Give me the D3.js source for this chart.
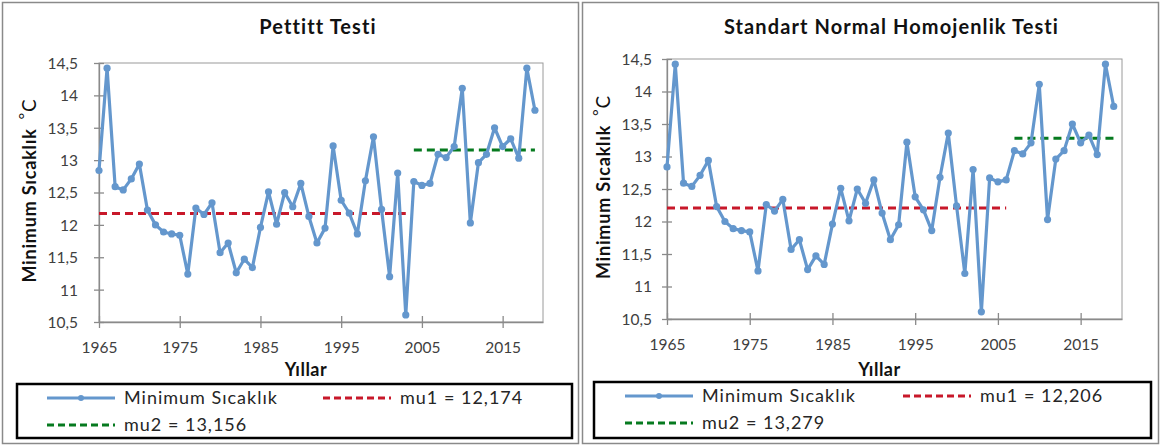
<!DOCTYPE html>
<html>
<head>
<meta charset="utf-8">
<script src="https://cdn.jsdelivr.net/npm/d3@7"></script>
<style>
  body { margin: 0; background: #fff; }
  text { font-family: Lato, "Open Sans", sans-serif; }
</style>
</head>
<body>
<div id="chart"></div>
<script>
var width = 1172;
var height = 447;

// values
var years = [1965, 1966, 1967, 1968, 1969, 1970, 1971, 1972, 1973, 1974,
    1975, 1976, 1977, 1978, 1979, 1980, 1981, 1982, 1983, 1984,
    1985, 1986, 1987, 1988, 1989, 1990, 1991, 1992, 1993, 1994,
    1995, 1996, 1997, 1998, 1999, 2000, 2001, 2002, 2003, 2004,
    2005, 2006, 2007, 2008, 2009, 2010, 2011, 2012, 2013, 2014,
    2015, 2016, 2017, 2018, 2019];
var minTemp = [12.84, 14.42, 12.59, 12.54, 12.71, 12.94, 12.23, 12.00, 11.89, 11.86,
    11.84, 11.24, 12.26, 12.16, 12.34, 11.57, 11.72, 11.26, 11.47, 11.34,
    11.96, 12.51, 12.01, 12.50, 12.28, 12.64, 12.13, 11.72, 11.95, 13.22,
    12.38, 12.18, 11.86, 12.68, 13.36, 12.24, 11.20, 12.80, 10.61, 12.67,
    12.61, 12.64, 13.09, 13.04, 13.21, 14.11, 12.03, 12.96, 13.09, 13.50,
    13.21, 13.33, 13.03, 14.42, 13.77];

var titles = ['Pettitt Testi', 'Standart Normal Homojenlik Testi'];
var mu1 = [12.174, 12.206];
var mu2 = [13.156, 13.279];
var mu1Span = [[1965, 2003], [1965, 2006]];
var mu2Span = [[2004, 2019], [2007, 2019]];
var mu1Labels = ['mu1 = 12,174', 'mu1 = 12,206'];
var mu2Labels = ['mu2 = 13,156', 'mu2 = 13,279'];

var yTicks = [10.5, 11, 11.5, 12, 12.5, 13, 13.5, 14, 14.5];
var xTicks = [1965, 1975, 1985, 1995, 2005, 2015];

var blue = '#6497cd';
var red = '#c8182a';
var green = '#067a1f';

// panel layout
var panels = [
    { left: 2, right: 578, px0: 99, px1: 543, py0: 63, py1: 322, tickEnd: 78, yLabelX: 30,
      legX: 17, legX1: 572, legY: 384, legY1: 438, col1: 47, col2: 323, row1: 398, row2: 425 },
    { left: 582, right: 1158, px0: 667, px1: 1122, py0: 59, py1: 319, tickEnd: 652, yLabelX: 604,
      legX: 594, legX1: 1151, legY: 382, legY1: 438, col1: 625, col2: 903, row1: 396, row2: 423 }
];

var svg = d3.select('#chart').append('svg')
    .attr('width', width)
    .attr('height', height);

svg.append('rect')
    .attr('width', width)
    .attr('height', height)
    .attr('fill', '#fff');

panels.forEach(function (p, i) {
    var g = svg.append('g');

    g.append('rect')
        .attr('x', p.left + 0.5)
        .attr('y', 2.5)
        .attr('width', p.right - p.left)
        .attr('height', 441)
        .attr('fill', '#fff')
        .attr('stroke', '#8a8a8a')
        .attr('stroke-width', 1.5);

    var x = d3.scaleLinear().domain([1965, 2020]).range([p.px0, p.px1]);
    var y = d3.scaleLinear().domain([10.5, 14.5]).range([p.py1, p.py0]);

    // plot area frame
    g.append('rect')
        .attr('x', p.px0)
        .attr('y', p.py0)
        .attr('width', p.px1 - p.px0)
        .attr('height', p.py1 - p.py0)
        .attr('fill', 'none')
        .attr('stroke', '#9a9a9a')
        .attr('stroke-width', 1);

    var yAxis = d3.axisLeft(y)
        .tickValues(yTicks)
        .tickSizeInner(5)
        .tickSizeOuter(0)
        .tickPadding(p.px0 - p.tickEnd - 5)
        .tickFormat(d => String(d).replace('.', ','));

    var yAxis_g = g.append('g')
        .attr('transform', `translate(${p.px0}, 0)`)
        .call(yAxis);

    var xAxis = d3.axisBottom(x)
        .tickValues(xTicks)
        .tickSizeInner(6)
        .tickSizeOuter(0)
        .tickPadding(14)
        .tickFormat(d3.format('d'));

    var xAxis_g = g.append('g')
        .attr('transform', `translate(0, ${p.py1})`)
        .call(xAxis);

    // Excel style crossing ticks
    yAxis_g.selectAll('.tick line').attr('x1', 5).attr('x2', -5);
    xAxis_g.selectAll('.tick line').attr('y1', -6).attr('y2', 6);

    [yAxis_g, xAxis_g].forEach(function (a) {
        a.select('.domain').attr('stroke', '#8a8a8a').attr('stroke-width', 1.3);
        a.selectAll('.tick line').attr('stroke', '#8a8a8a').attr('stroke-width', 1.3);
        a.selectAll('.tick text')
            .attr('fill', '#404040')
            .style('font-size', '15.5px')
            .style('font-family', 'Lato, sans-serif');
    });
    yAxis_g.selectAll('.tick text').attr('dy', '0.35em');

    // mean lines
    g.append('line')
        .attr('x1', x(mu1Span[i][0]))
        .attr('x2', x(mu1Span[i][1]))
        .attr('y1', y(mu1[i]))
        .attr('y2', y(mu1[i]))
        .attr('stroke', red)
        .attr('stroke-width', 3)
        .attr('stroke-dasharray', '8,5');

    g.append('line')
        .attr('x1', x(mu2Span[i][0]))
        .attr('x2', x(mu2Span[i][1]))
        .attr('y1', y(mu2[i]))
        .attr('y2', y(mu2[i]))
        .attr('stroke', green)
        .attr('stroke-width', 3)
        .attr('stroke-dasharray', '8,5');

    var line = d3.line()
        .x((d, j) => x(years[j]))
        .y(d => y(d));

    g.append('path')
        .datum(minTemp)
        .attr('d', line)
        .attr('fill', 'none')
        .attr('stroke', blue)
        .attr('stroke-width', 3.2)
        .attr('stroke-linejoin', 'round');

    g.selectAll('circle.pt')
        .data(minTemp)
        .enter()
        .append('circle')
        .attr('class', 'pt')
        .attr('cx', (d, j) => x(years[j]))
        .attr('cy', d => y(d))
        .attr('r', 3.6)
        .attr('fill', blue);

    // title
    g.append('text')
        .attr('x', (p.px0 + p.px1) / 2 - 3)
        .attr('y', 34)
        .attr('text-anchor', 'middle')
        .attr('fill', '#111')
        .style('font-size', '20px')
        .style('letter-spacing', '1.1px')
        .style('font-weight', 'bold')
        .text(titles[i]);

    // axis titles
    var yl = g.append('text')
        .attr('transform', `translate(${p.yLabelX + 6}, ${(p.py0 + p.py1) / 2 - 2}) rotate(-90)`)
        .attr('text-anchor', 'middle')
        .attr('fill', '#111')
        .style('font-size', '18px')
        .style('letter-spacing', '0.8px');
    yl.append('tspan').style('font-weight', 'bold').text('Minimum Sıcaklık');
    yl.append('tspan').attr('dx', 9).attr('dy', -6).style('font-size', '16px').text('°');
    yl.append('tspan').attr('dy', 6).style('font-size', '19px').text('C');

    g.append('text')
        .attr('x', (p.px0 + p.px1) / 2 - 15)
        .attr('y', 376)
        .attr('text-anchor', 'middle')
        .attr('fill', '#111')
        .style('font-size', '18px')
        .style('letter-spacing', '0.5px')
        .style('font-weight', 'bold')
        .text('Yıllar');

    // legend
    g.append('rect')
        .attr('x', p.legX)
        .attr('y', p.legY)
        .attr('width', p.legX1 - p.legX)
        .attr('height', p.legY1 - p.legY)
        .attr('fill', '#fff')
        .attr('stroke', '#000')
        .attr('stroke-width', 2.5);

    var legendItems = [
        { x: p.col1, y: p.row1, color: blue, dash: null, label: 'Minimum Sıcaklık' },
        { x: p.col2, y: p.row1, color: red, dash: '7,4', label: mu1Labels[i] },
        { x: p.col1, y: p.row2, color: green, dash: '7,4', label: mu2Labels[i] }
    ];

    legendItems.forEach(function (it) {
        var lg = g.append('g').attr('transform', `translate(${it.x}, ${it.y})`);
        lg.append('line')
            .attr('x1', 0)
            .attr('x2', 68)
            .attr('stroke', it.color)
            .attr('stroke-width', 3)
            .attr('stroke-dasharray', it.dash);
        if (!it.dash) {
            lg.append('circle').attr('cx', 34).attr('r', 3).attr('fill', it.color);
        }
        lg.append('text')
            .attr('x', 77)
            .attr('dy', '0.35em')
            .attr('fill', '#262626')
            .style('font-size', '18px')
            .style('letter-spacing', '1px')
            .text(it.label);
    });
});
</script>
</body>
</html>
